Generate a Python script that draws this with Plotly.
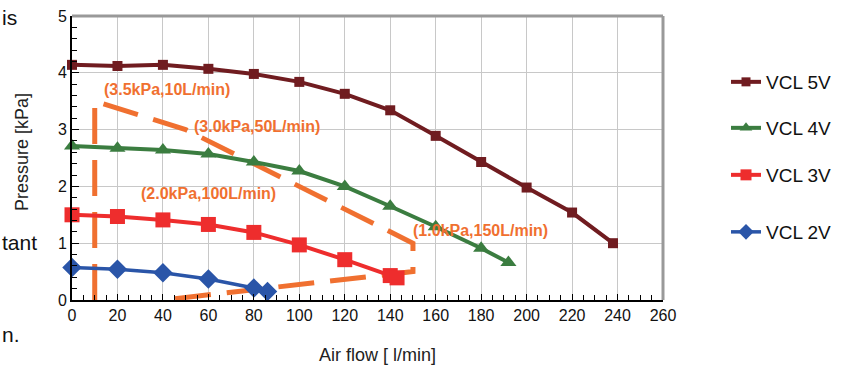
import plotly.graph_objects as go

# ---- data ----
flow_5v = [0, 20, 40, 60, 80, 100, 120, 140, 160, 180, 200, 220, 238]
pres_5v = [4.14, 4.12, 4.14, 4.07, 3.98, 3.84, 3.63, 3.34, 2.89, 2.43, 1.98, 1.54, 1.00]

flow_4v = [0, 20, 40, 60, 80, 100, 120, 140, 160, 180, 192]
pres_4v = [2.71, 2.67, 2.64, 2.57, 2.43, 2.27, 2.00, 1.65, 1.29, 0.91, 0.66]

flow_3v = [0, 20, 40, 60, 80, 100, 120, 140, 143]
pres_3v = [1.50, 1.47, 1.41, 1.33, 1.19, 0.97, 0.71, 0.43, 0.39]

flow_2v = [0, 20, 40, 60, 80, 86]
pres_2v = [0.57, 0.54, 0.48, 0.37, 0.21, 0.15]

# operating-region outline (orange dashed)
region_flow = [10, 10, 50, 100, 150, 150, 40]
region_pres = [0, 3.5, 3.0, 2.0, 1.0, 0.5, 0]

region_labels = ["(3.5kPa,10L/min)", "(3.0kPa,50L/min)", "(2.0kPa,100L/min)", "(1.0kPa,150L/min)"]
label_flow = [42, 81.5, 60, 179.5]
label_pres = [3.71, 3.05, 1.88, 1.23]

series_names = ["VCL 5V", "VCL 4V", "VCL 3V", "VCL 2V"]
x_ticks = list(range(0, 261, 20))
y_ticks = [0, 1, 2, 3, 4, 5]

ORANGE = "#F07030"
FONT = "Liberation Sans, Arial, sans-serif"

W, H = 843, 372
PL, PT, PW, PH = 72, 16, 591, 284   # plot area in page pixels


def px_x(p):
    return (p - PL) / PW


def px_y(p):
    return (PT + PH - p) / PH


fig = go.Figure()

fig.add_trace(go.Scatter(
    x=region_flow, y=region_pres, mode="lines",
    line=dict(color=ORANGE, width=5, dash="36px,16px"),
    showlegend=False, hoverinfo="skip",
))

styles = [
    (flow_5v, pres_5v, "#701C20", "square", 10, 9, 4, "legend"),
    (flow_4v, pres_4v, "#3B7D40", "triangle-up", 14, 11, 4, "legend2"),
    (flow_3v, pres_3v, "#EE2D2D", "square", 15, 11, 4, "legend3"),
    (flow_2v, pres_2v, "#2A55A8", "diamond", 15, 12, 3.5, "legend4"),
]
for name, (xs, ys, col, sym, msize, lsize, lw, leg) in zip(series_names, styles):
    fig.add_trace(go.Scatter(
        x=xs, y=ys, mode="lines+markers", name=name,
        line=dict(color=col, width=lw),
        marker=dict(symbol=sym, size=msize, color=col),
        cliponaxis=False, showlegend=False,
    ))
    # legend entry with the smaller legend marker
    fig.add_trace(go.Scatter(
        x=[None], y=[None], mode="lines+markers", name=name,
        line=dict(color=col, width=lw),
        marker=dict(symbol=sym, size=lsize, color=col),
        legend=leg, hoverinfo="skip",
    ))

for txt, lx, ly in zip(region_labels, label_flow, label_pres):
    fig.add_annotation(x=lx, y=ly, text=txt, showarrow=False,
                       font=dict(family=FONT, size=16, color=ORANGE, weight="bold"))

# axis titles
fig.add_annotation(xref="paper", yref="paper", x=px_x(377), y=px_y(355),
                   xanchor="center", yanchor="middle",
                   text="Air flow [ l/min]", showarrow=False,
                   font=dict(family=FONT, size=18, color="#222"))
fig.add_annotation(xref="paper", yref="paper", x=px_x(22), y=px_y(152),
                   xanchor="center", yanchor="middle",
                   text="Pressure [kPa]", showarrow=False, textangle=-90,
                   font=dict(family=FONT, size=18, color="#222"))

# surrounding document text fragments
for txt, py in [("is", 18), ("tant", 243), ("n.", 334)]:
    fig.add_annotation(xref="paper", yref="paper", x=px_x(0), y=px_y(py),
                       xanchor="left", yanchor="middle", text=txt, showarrow=False,
                       font=dict(family=FONT, size=21, color="#111"))

# top/right gray frame
fig.add_shape(type="line", xref="paper", yref="paper", x0=0, x1=1, y0=1, y1=1,
              line=dict(color="#999999", width=3))
fig.add_shape(type="line", xref="paper", yref="paper", x0=1, x1=1, y0=0, y1=1,
              line=dict(color="#999999", width=3))

leg_rows = [82, 128, 175, 232]
leg_common = dict(x=px_x(726), xanchor="left", yanchor="middle",
                  font=dict(family=FONT, size=19, color="#111"),
                  bgcolor="rgba(0,0,0,0)")

fig.update_layout(
    width=W, height=H,
    margin=dict(l=PL, r=W - PL - PW, t=PT, b=H - PT - PH, autoexpand=False),
    paper_bgcolor="white", plot_bgcolor="white",
    font=dict(family=FONT, size=16, color="#111"),
    legend=dict(y=px_y(leg_rows[0]), **leg_common),
    legend2=dict(y=px_y(leg_rows[1]), **leg_common),
    legend3=dict(y=px_y(leg_rows[2]), **leg_common),
    legend4=dict(y=px_y(leg_rows[3]), **leg_common),
    xaxis=dict(range=[0, 260], tickvals=x_ticks, showgrid=True, gridcolor="#C8C8C8",
               gridwidth=1, showline=True, linecolor="black", linewidth=2,
               ticks="inside", ticklen=6, tickcolor="black", zeroline=False,
               automargin=False,
               minor=dict(dtick=5, ticks="inside", ticklen=5, tickcolor="black", showgrid=False),
               tickfont=dict(size=16, color="#111")),
    yaxis=dict(range=[0, 5], tickvals=y_ticks, showgrid=True, gridcolor="#C8C8C8",
               gridwidth=1, showline=True, linecolor="black", linewidth=2,
               ticks="inside", ticklen=7, tickcolor="black", zeroline=False,
               automargin=False,
               minor=dict(dtick=0.2, ticks="inside", ticklen=5, tickcolor="black", showgrid=False),
               tickfont=dict(size=16, color="#111")),
)

fig.write_html("out.html", config={"displayModeBar": False},
               post_script="document.body.style.margin='0';")
